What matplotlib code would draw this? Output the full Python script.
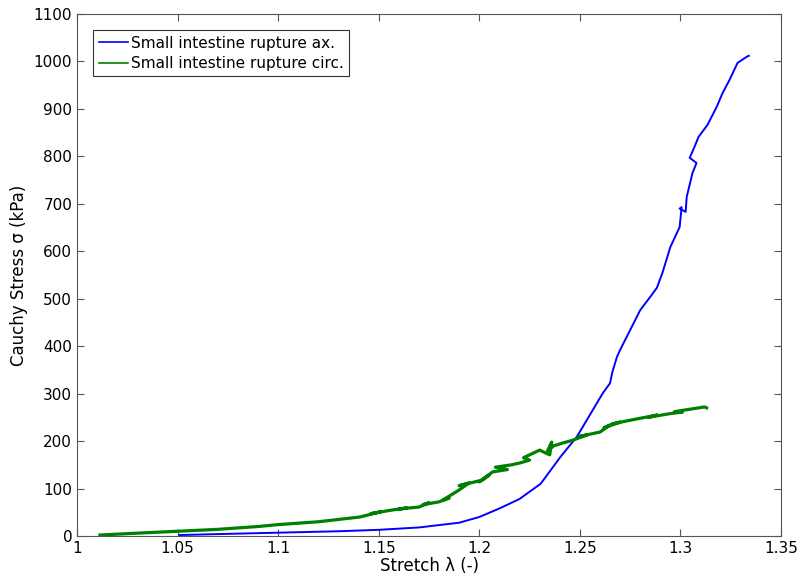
import numpy as np
import matplotlib.pyplot as plt

# stretch / stress
ax_stretch = [1.051, 1.07, 1.10, 1.13, 1.15, 1.17, 1.19, 1.20, 1.21, 1.22, 1.2305, 1.2404,
              1.2485, 1.2565, 1.2614, 1.265, 1.266, 1.2684, 1.27, 1.275, 1.280, 1.285,
              1.2883, 1.291, 1.295, 1.2996, 1.3006, 1.2996, 1.3026, 1.3031, 1.306, 1.308,
              1.3046, 1.307, 1.309, 1.3134, 1.318, 1.3209, 1.3244, 1.3284, 1.333, 1.334]
ax_stress = [2, 4, 7, 10, 13, 18, 28, 40, 58, 78, 110, 167,
             209, 266, 301, 322, 343, 377, 392, 434, 476, 504,
             523, 554, 609, 651, 693, 690, 683, 714, 765, 786,
             797, 820, 841, 866, 904, 933, 961, 997, 1010, 1012]

circ_stretch = [1.0114, 1.03, 1.05, 1.07, 1.09, 1.10, 1.12, 1.1406, 1.151, 1.146, 1.157, 1.164,
                1.160, 1.170, 1.175, 1.172, 1.180, 1.185, 1.182, 1.190, 1.195, 1.190,
                1.2016, 1.205, 1.200, 1.2066, 1.214, 1.208, 1.216, 1.2203, 1.225, 1.222,
                1.230, 1.235, 1.236, 1.234, 1.237, 1.2416, 1.2466, 1.2536, 1.250, 1.260,
                1.265, 1.262, 1.270, 1.266, 1.275, 1.2885, 1.284, 1.295, 1.301, 1.297,
                1.312, 1.313]
circ_stress = [2, 6, 10, 14, 20, 24, 30, 40, 51, 47, 55, 59,
               57, 61, 70, 66, 72, 80, 76, 97, 112, 106,
               118, 129, 114, 135, 140, 145, 150, 154, 160, 165,
               181, 171, 198, 180, 190, 196, 202, 213, 210, 219,
               234, 228, 240, 236, 244, 255, 250, 258, 261, 262,
               272, 270]

plt.rcParams['font.family'] = ['DejaVu Sans']
fig = plt.figure(figsize=(7.99, 5.80), dpi=100)
ax = fig.add_axes([77/799, 1-536/580, (781-77)/799, (536-14)/580])

ax.plot(ax_stretch, ax_stress, color=(0, 0, 1), lw=1.4, label='Small intestine rupture ax.')
ax.plot(circ_stretch, circ_stress, color=(0, 0.5, 0), lw=2.3, label='Small intestine rupture circ.')

ax.set_xlim(1, 1.35)
ax.set_ylim(0, 1100)
ax.set_xticks(np.arange(1, 1.351, 0.05))
ax.set_xticklabels(['1', '1.05', '1.1', '1.15', '1.2', '1.25', '1.3', '1.35'])
ax.set_yticks(np.arange(0, 1101, 100))
ax.tick_params(direction='in', top=True, right=True, labelsize=11, length=5, color='#555555')
for s in ax.spines.values():
    s.set_color('#555555')
ax.set_xlabel('Stretch λ (-)', fontsize=12, labelpad=1)
ax.set_ylabel('Cauchy Stress σ (kPa)', fontsize=12, labelpad=4)

leg = ax.legend(loc='upper left', bbox_to_anchor=(0.023, 0.969), fontsize=11, fancybox=False,
                handlelength=1.9, handletextpad=0.2, borderpad=0.35, labelspacing=0.35,
                borderaxespad=0)
leg.get_frame().set_edgecolor('black')
leg.get_frame().set_linewidth(0.8)
for l in leg.get_lines():
    l.set_linewidth(1.2)

fig.savefig('out.png', dpi=100)
